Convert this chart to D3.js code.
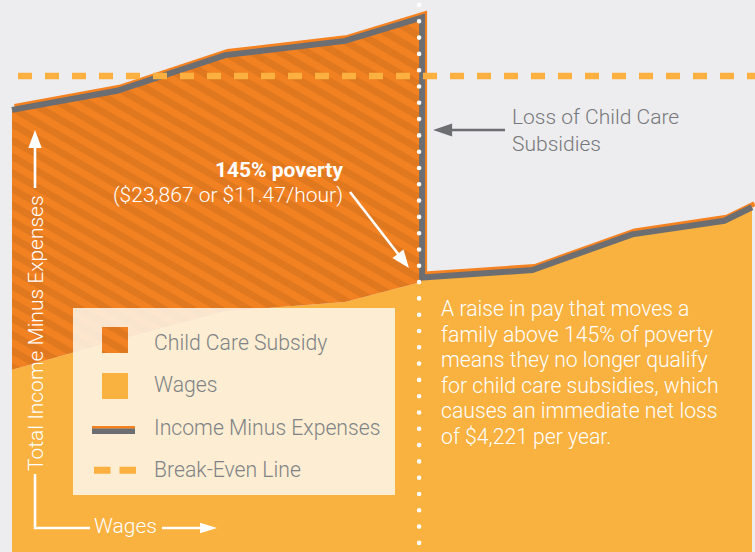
<!DOCTYPE html>
<html><head><meta charset="utf-8">
<script src="https://cdn.jsdelivr.net/npm/d3@7"></script>
<style>
html,body{margin:0;padding:0;background:#ededef;}
svg{display:block;font-family:Roboto,"Open Sans",sans-serif;}
</style></head><body>
<svg id="chart" width="755" height="552"></svg>
<script>
// ---- data (annual wages in $ thousands; income minus expenses in $ thousands, 0 = break-even)
const wagesBefore = [15.0, 17.27, 19.61, 22.2, 23.867];
const netBefore = [-0.55, -0.24, 0.34, 0.57, 0.95];          // with child care subsidy
const netWithoutSubsidy = [-4.77, -4.29, -3.82, -3.67, -3.34]; // wages-only level
const wagesAfter = [23.867, 26.25, 28.41, 30.4, 31.0];
const netAfter = [-3.27, -3.15, -2.57, -2.35, -2.13];
const breakEven = 0;
const povertyWage = 23.867;
const legendLabels = ["Child Care Subsidy", "Wages", "Income Minus Expenses", "Break-Even Line"];
const povertyTitle = "145% poverty";
const povertySub = "($23,867 or $11.47/hour)";
const lossLabel = ["Loss of Child Care", "Subsidies"];
const note = ["A raise in pay that moves a", "family above 145% of poverty", "means they no longer qualify",
  "for child care subsidies, which", "causes an immediate net loss", "of $4,221 per year."];
const yLabel = "Total Income Minus Expenses";
const xLabel = "Wages";

const C = {bg:"#ededef", wages:"#f9b13f", sub:"#f28121", subStripe:"#e0781f", gray:"#6d6e71",
  lineOrange:"#f58220", dash:"#fbb040", text:"#808285"};

const W = 755, H = 552;
const svg = d3.select("#chart");
const x = d3.scaleLinear().domain([15, 31]).range([12, 752]);
const y = d3.scaleLinear().domain([-7.727, 1.234]).range([H, 0]);

const defs = svg.append("defs");
const pat = defs.append("pattern").attr("id","hatch").attr("patternUnits","userSpaceOnUse")
  .attr("width",14).attr("height",14).attr("patternTransform","rotate(30)");
pat.append("rect").attr("width",14).attr("height",14).attr("fill",C.sub);
pat.append("rect").attr("width",14).attr("height",7).attr("fill",C.subStripe);

svg.append("rect").attr("width",W).attr("height",H).attr("fill",C.bg);

const before = wagesBefore.map((w,i)=>({w, net:netBefore[i], base:netWithoutSubsidy[i]}));
const after = wagesAfter.map((w,i)=>({w, net:netAfter[i]}));

// wages area
const wagesPts = before.map(d=>({w:d.w, v:d.base})).concat(after.map(d=>({w:d.w, v:d.net})));
svg.append("path").datum(wagesPts).attr("fill",C.wages)
  .attr("d", d3.area().x(d=>x(d.w)).y0(y(y.domain()[0])).y1(d=>y(d.v)));

// subsidy area
svg.append("path").datum(before).attr("fill","url(#hatch)")
  .attr("d", d3.area().x(d=>x(d.w)).y0(d=>y(d.base)).y1(d=>y(d.net)));

// income minus expenses line
const linePts = before.concat(after);
const lineGen = d3.line().x(d=>x(d.w)).y(d=>y(d.net));
svg.append("path").datum(linePts).attr("fill","none").attr("stroke",C.lineOrange)
  .attr("stroke-width",5).attr("transform","translate(2.5,-3.5)").attr("d",lineGen);
svg.append("path").datum(linePts).attr("fill","none").attr("stroke",C.gray)
  .attr("stroke-width",6).attr("d",lineGen);

// break-even line
svg.append("line").attr("x1",18).attr("x2",W).attr("y1",y(breakEven)).attr("y2",y(breakEven))
  .attr("stroke",C.dash).attr("stroke-width",6.5).attr("stroke-dasharray","14,13");

// dotted poverty marker
const px = x(povertyWage) - 3;
svg.append("line").attr("x1",px).attr("x2",px).attr("y1",5).attr("y2",H)
  .attr("stroke","#fff").attr("stroke-width",4.6).attr("stroke-linecap","round")
  .attr("stroke-dasharray","0,16.3");

// legend
const lg = svg.append("g");
lg.append("rect").attr("x",73).attr("y",308).attr("width",322).attr("height",187)
  .attr("fill","#fef9f0").attr("opacity",0.84);
lg.append("rect").attr("x",102).attr("y",327).attr("width",26).attr("height",26).attr("fill","url(#hatch)");
lg.append("rect").attr("x",102).attr("y",373).attr("width",26).attr("height",26).attr("fill",C.wages);
lg.append("line").attr("x1",92).attr("x2",135).attr("y1",427.3).attr("y2",427.3)
  .attr("stroke",C.lineOrange).attr("stroke-width",2.8);
lg.append("line").attr("x1",92).attr("x2",135).attr("y1",431.3).attr("y2",431.3)
  .attr("stroke",C.gray).attr("stroke-width",5.4);
lg.append("line").attr("x1",94).attr("x2",137).attr("y1",470.3).attr("y2",470.3)
  .attr("stroke",C.dash).attr("stroke-width",7).attr("stroke-dasharray","16.5,9");
lg.selectAll("text.lab").data(legendLabels).join("text").attr("class","lab")
  .attr("x",154).attr("y",(d,i)=>350 + i*42.3).text(d=>d)
  .attr("fill",C.text).attr("font-size",21.2).attr("font-weight",300);

// axis labels (white L-shaped arrows)
const ax = svg.append("g").attr("fill","#fff");
ax.append("path").attr("d","M35,474 L35,528 L90,528").attr("fill","none").attr("stroke","#fff").attr("stroke-width",2.6);
ax.append("text").attr("x",94).attr("y",533).text(xLabel).attr("font-size",21).attr("font-weight",300);
ax.append("line").attr("x1",162).attr("x2",203).attr("y1",528).attr("y2",528).attr("stroke","#fff").attr("stroke-width",2.6);
ax.append("path").attr("d","M217,528 L200,522.7 L200,533.3 Z");
ax.append("text").attr("transform","translate(43,471) rotate(-90)").text(yLabel)
  .attr("font-size",21).attr("font-weight",300);
ax.append("line").attr("x1",35).attr("x2",35).attr("y1",188).attr("y2",146).attr("stroke","#fff").attr("stroke-width",2.6);
ax.append("path").attr("d","M35,130 L28.3,148 L41.7,148 Z");

// poverty annotation
const pg = svg.append("g").attr("fill","#fff").attr("text-anchor","end").attr("font-size",21);
pg.append("text").attr("x",343).attr("y",177).attr("font-weight",700).text(povertyTitle);
pg.append("text").attr("x",343).attr("y",202).attr("font-weight",300).text(povertySub);
function arrow(g, x1, y1, x2, y2, color, hl, hw, sw){
  const dx=x2-x1, dy=y2-y1, L=Math.hypot(dx,dy), ux=dx/L, uy=dy/L;
  const bx=x2-ux*hl, by=y2-uy*hl;
  g.append("line").attr("x1",x1).attr("y1",y1).attr("x2",bx+ux*1).attr("y2",by+uy*1)
    .attr("stroke",color).attr("stroke-width",sw);
  g.append("path").attr("fill",color)
    .attr("d",`M${x2},${y2} L${bx-uy*hw},${by+ux*hw} L${bx+uy*hw},${by-ux*hw} Z`);
}
arrow(svg, 350, 192, 409, 268, "#fff", 18, 7, 2.6);

// loss annotation
const lossY = 130;
arrow(svg, 505, lossY, x(povertyWage)+11, lossY, C.gray, 19, 6.5, 2.6);
svg.append("g").selectAll("text").data(lossLabel).join("text")
  .attr("x",512).attr("y",(d,i)=>124 + i*27).text(d=>d)
  .attr("fill","#77787b").attr("font-size",21).attr("font-weight",300);

// note text
svg.append("g").selectAll("text").data(note).join("text")
  .attr("x",441).attr("y",(d,i)=>316 + i*25.6).text(d=>d)
  .attr("fill","#fff").attr("font-size",21.2).attr("font-weight",300);
</script>
</body></html>
